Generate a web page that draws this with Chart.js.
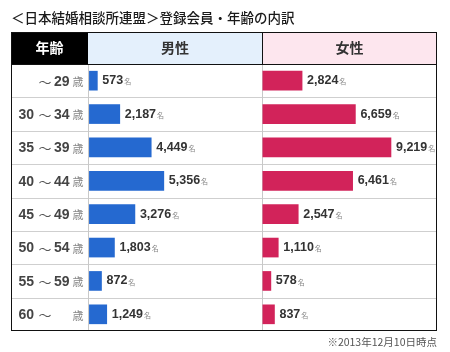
<!DOCTYPE html>
<html>
<head>
<meta charset="utf-8">
<script src="https://cdn.jsdelivr.net/npm/chart.js@4.4.0/dist/chart.umd.min.js"></script>
<style>
  body { margin: 0; background: #fff; }
</style>
</head>
<body>
<canvas id="chart_nenrei" width="450" height="352"></canvas>
<script>
/*==================== 登録会員・年齢の内訳 ====================*/
const ageFrom = ['', '30', '35', '40', '45', '50', '55', '60'];
const ageTo = ['29', '34', '39', '44', '49', '54', '59', ''];
const labels = ageFrom.map((f, i) => f + '～' + ageTo[i]);
const male = [573, 2187, 4449, 5356, 3276, 1803, 872, 1249];
const female = [2824, 6659, 9219, 6461, 2547, 1110, 578, 837];
const headers = ['年齢', '男性', '女性'];
const title = '＜日本結婚相談所連盟＞登録会員・年齢の内訳';
const note = '※2013年12月10日時点';
const unit = '名';

const JP = '"Noto Sans CJK JP", sans-serif';
const NUM = '"Liberation Sans", Arial, sans-serif';

// 表の枠・見出し・ラベル
const tablePlugin = {
    id: 'table',
    beforeDatasetsDraw(chart) {
        const ctx = chart.ctx;
        const a = chart.chartArea;
        const xm = chart.scales.xM, xf = chart.scales.xF, y = chart.scales.y;
        const L = 11, T = 32;
        ctx.save();
        // タイトル
        ctx.fillStyle = '#1a1a1a';
        ctx.font = '500 13.5px ' + JP;
        ctx.textBaseline = 'middle';
        ctx.textAlign = 'left';
        ctx.fillText(title, L, 18);
        // 見出しセル
        ctx.fillStyle = '#000';
        ctx.fillRect(L, T, a.left - L, a.top - T);
        ctx.fillStyle = '#e4f0fc';
        ctx.fillRect(xm.left, T, xm.width, a.top - T);
        ctx.fillStyle = '#fde6ee';
        ctx.fillRect(xf.left, T, a.right - xf.left, a.top - T);
        ctx.textAlign = 'center';
        ctx.font = 'bold 14px ' + JP;
        ctx.fillStyle = '#fff';
        ctx.fillText(headers[0], (L + a.left) / 2, 48);
        ctx.fillStyle = '#333';
        ctx.fillText(headers[1], (xm.left + xm.right) / 2, 48);
        ctx.fillText(headers[2], (xf.left + a.right) / 2, 48);
        // 行の区切り線
        ctx.strokeStyle = '#cfcfcf';
        ctx.lineWidth = 1;
        for (let i = 1; i < labels.length; i++) {
            const yy = Math.round((y.getPixelForValue(i - 1) + y.getPixelForValue(i)) / 2) + 0.5;
            ctx.beginPath();
            ctx.moveTo(L, yy);
            ctx.lineTo(a.right, yy);
            ctx.stroke();
        }
        // 縦の区切り線
        ctx.strokeStyle = '#c8c8c8';
        [a.left, xf.left].forEach(x => {
            ctx.beginPath();
            ctx.moveTo(Math.round(x) + 0.5, a.top);
            ctx.lineTo(Math.round(x) + 0.5, a.bottom);
            ctx.stroke();
        });
        ctx.restore();
    },
    afterDatasetsDraw(chart) {
        const ctx = chart.ctx;
        const a = chart.chartArea;
        const xf = chart.scales.xF, y = chart.scales.y;
        const L = 11, T = 32;
        ctx.save();
        // 外枠
        ctx.strokeStyle = '#111';
        ctx.lineWidth = 1;
        ctx.strokeRect(L + 0.5, T + 0.5, a.right - L - 1, a.bottom - T - 1);
        ctx.beginPath();
        ctx.moveTo(L, Math.round(a.top) + 0.5);
        ctx.lineTo(a.right, Math.round(a.top) + 0.5);
        ctx.moveTo(Math.round(xf.left) + 0.5, T);
        ctx.lineTo(Math.round(xf.left) + 0.5, a.top);
        ctx.stroke();
        // 年齢ラベル
        ctx.textBaseline = 'middle';
        labels.forEach((lab, i) => {
            const yy = y.getPixelForValue(i) + 1;
            ctx.fillStyle = '#444';
            ctx.font = 'bold 14px ' + NUM;
            ctx.textAlign = 'right';
            ctx.fillText(ageFrom[i], 34, yy);
            ctx.textAlign = 'left';
            ctx.fillText(ageTo[i], 54, yy);
            ctx.fillStyle = '#555';
            ctx.font = '13px ' + JP;
            ctx.textAlign = 'center';
            ctx.fillText('～', 45, yy);
            ctx.fillStyle = '#888';
            ctx.font = '11px ' + JP;
            ctx.fillText('歳', 78, yy);
        });
        // 値ラベル
        ctx.textAlign = 'left';
        [male, female].forEach((vals, di) => {
            chart.getDatasetMeta(di).data.forEach((bar, i) => {
                const txt = vals[i].toLocaleString('en-US');
                const x = bar.x + 5;
                ctx.fillStyle = '#333';
                ctx.font = 'bold 12.5px ' + NUM;
                ctx.fillText(txt, x, bar.y);
                const w = ctx.measureText(txt).width;
                ctx.fillStyle = '#888';
                ctx.font = '7px ' + JP;
                ctx.fillText(unit, x + w + 1, bar.y + 1);
            });
        });
        // 注記
        ctx.fillStyle = '#555';
        ctx.font = '10.5px ' + JP;
        ctx.textAlign = 'right';
        ctx.fillText(note, a.right, 342);
        ctx.restore();
    }
};

const nenrei_chart = new Chart(document.getElementById('chart_nenrei'), {
    type: 'bar',
    data: {
        labels: labels,
        datasets: [{
            label: headers[1],
            data: male,
            xAxisID: 'xM',
            backgroundColor: '#2569d0',
            grouped: false,
            barThickness: 19
        }, {
            label: headers[2],
            data: female,
            xAxisID: 'xF',
            backgroundColor: '#d2235a',
            grouped: false,
            barThickness: 19
        }]
    },
    options: {
        responsive: false,
        animation: false,
        indexAxis: 'y',
        layout: { padding: { left: 88, right: 13, top: 64, bottom: 21 } },
        plugins: {
            legend: { display: false },
            tooltip: { enabled: false }
        },
        scales: {
            y: { display: false },
            xM: { type: 'linear', position: 'bottom', stack: 'cols', stackWeight: 174, min: -100, max: 12420, display: false },
            xF: { type: 'linear', position: 'bottom', stack: 'cols', stackWeight: 175, min: -60, max: 12530, display: false }
        }
    },
    plugins: [tablePlugin]
});
</script>
</body>
</html>
